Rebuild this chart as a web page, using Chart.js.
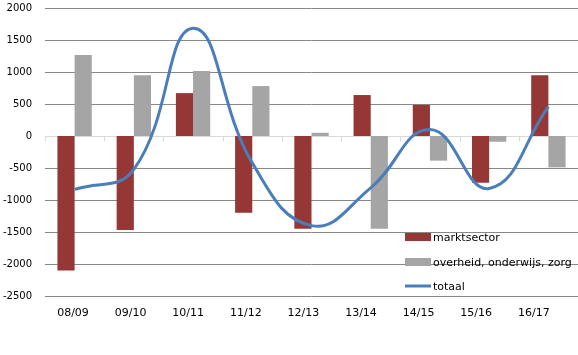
<!DOCTYPE html>
<html><head><meta charset="utf-8">
<script src="https://cdn.jsdelivr.net/npm/chart.js@4/dist/chart.umd.min.js"></script>
<style>html,body{margin:0;padding:0;background:#fff}#w{width:578px;height:355px}</style>
</head><body><div id="w"><canvas id="c" width="578" height="355"></canvas></div>
<script>
const categories = ['08/09','09/10','10/11','11/12','12/13','13/14','14/15','15/16','16/17'];
const marktsector = [-2100,-1470,670,-1200,-1450,640,485,-730,950];
const overheid = [1265,950,1015,780,50,-1450,-385,-90,-490];
const totaal = [-835,-520,1685,-420,-1400,-810,100,-820,460];
const seriesNames = ['marktsector','overheid, onderwijs, zorg','totaal'];
const yTicks = {min:-2500,max:2000,step:500};

const RED='#953735', GREY='#A5A5A5', BLUE='#4A7EBB';

const extras = {
  id:'extras',
  beforeDatasetsDraw(chart){
    const ctx=chart.ctx, ca=chart.chartArea, y=chart.scales.y, x=chart.scales.x;
    ctx.save();
    ctx.lineWidth=1;
    for(let v=yTicks.min; v<=yTicks.max; v+=yTicks.step){
      const py=Math.round(y.getPixelForValue(v))+0.5;
      ctx.strokeStyle = v===0 ? '#D9D9D9' : '#888888';
      ctx.beginPath(); ctx.moveTo(ca.left,py); ctx.lineTo(chart.width,py); ctx.stroke();
    }
    const y0=Math.round(y.getPixelForValue(0))+0.5;
    ctx.strokeStyle='#D9D9D9';
    const n=categories.length;
    const w=(x.getPixelForValue(1)-x.getPixelForValue(0));
    for(let i=0;i<=n;i++){
      const px=Math.round(x.getPixelForValue(0)-w/2+i*w)+0.5;
      ctx.beginPath(); ctx.moveTo(px,y0); ctx.lineTo(px,y0+5); ctx.stroke();
    }
    ctx.restore();
  },
  afterDraw(chart){
    const ctx=chart.ctx;
    ctx.save();
    ctx.font='11px "DejaVu Sans"';
    ctx.textBaseline='middle';
    const bx=405, rows=[237,262,286];
    ctx.fillStyle=RED; ctx.fillRect(bx,rows[0]-4,26,8);
    ctx.fillStyle=GREY; ctx.fillRect(bx,rows[1]-4,26,8);
    ctx.strokeStyle=BLUE; ctx.lineWidth=3;
    ctx.beginPath(); ctx.moveTo(bx,rows[2]); ctx.lineTo(bx+26,rows[2]); ctx.stroke();
    ctx.fillStyle='#000';
    seriesNames.forEach((s,i)=>ctx.fillText(s,433,rows[i]+1));
    ctx.restore();
  }
};

new Chart(document.getElementById('c'),{
  data:{
    labels:categories,
    datasets:[
      {type:'line',label:seriesNames[2],data:totaal,borderColor:BLUE,borderWidth:3,pointRadius:0,tension:0.45,order:0,fill:false},
      {type:'bar',label:seriesNames[0],data:marktsector,backgroundColor:RED,order:1,categoryPercentage:0.58,barPercentage:1},
      {type:'bar',label:seriesNames[1],data:overheid,backgroundColor:GREY,order:1,categoryPercentage:0.58,barPercentage:1}
    ]
  },
  options:{
    responsive:false,animation:false,
    layout:{padding:{top:8,right:0,left:0,bottom:0}},
    plugins:{legend:{display:false},tooltip:{enabled:false}},
    scales:{
      x:{
        grid:{display:false},border:{display:false},
        ticks:{display:false},
        afterFit(s){s.height=0;s.paddingLeft=0;s.paddingRight=0;}
      },
      x2:{
        type:'linear',position:'bottom',min:-0.486,max:8.767,
        grid:{display:false,drawTicks:false,tickLength:0},border:{display:false},
        afterBuildTicks(s){s.ticks=categories.map((c,i)=>({value:i}));},
        ticks:{autoSkip:false,font:{family:'DejaVu Sans',size:11},color:'#000',padding:11,maxRotation:0,callback:(v)=>categories[v]},
        afterFit(s){s.height=59;s.paddingLeft=0;s.paddingRight=0;}
      },
      y:{
        min:yTicks.min,max:yTicks.max,
        grid:{display:false,drawTicks:false,tickLength:0},
        border:{display:false},
        ticks:{stepSize:yTicks.step,font:{family:'DejaVu Sans',size:10},color:'#000',padding:13,callback:(v)=>String(v)},
        afterFit(s){s.width=45;s.paddingTop=0;s.paddingBottom=0;}
      }
    }
  },
  plugins:[extras]
});
</script></body></html>
